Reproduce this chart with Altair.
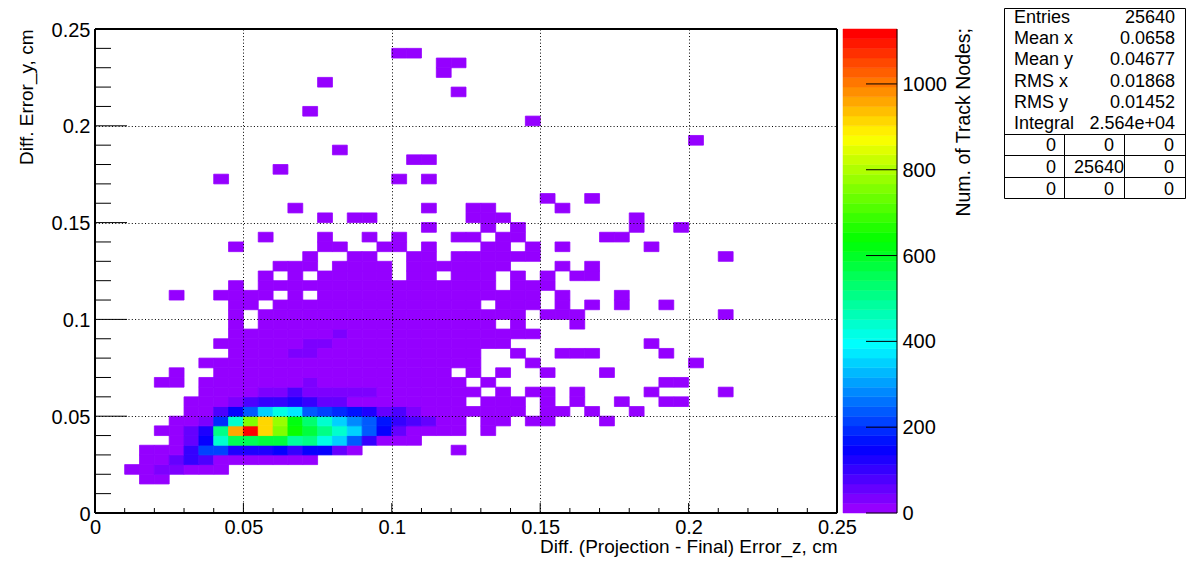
import colorsys
import altair as alt
import pandas as pd

FONT = "Liberation Sans"
BIN = 0.005
ZMAX = 1128.0
LEVELS = 50

# Dense part of the histogram: (row bin, first column bin, counts)
core_03 = (3, 3, [3, 3])
core_04 = (4, 2, [4, 4, 35, 28, 8, 8, 8])
core_05 = (5, 3, [8, 8, 48, 110, 78, 18, 18, 18, 10, 10, 10, 10])
core_06 = (6, 3, [6, 6, 10, 110, 220, 205, 125, 125, 130, 144, 110, 146, 146, 62, 8])
core_07 = (7, 5, [8, 62, 155, 440, 560, 545, 580, 575, 480, 500, 410, 340, 242, 94, 20, 8, 8])
core_08 = (8, 4, [10, 15, 50, 130, 504, 968, 1120, 918, 750, 640, 570, 504, 440, 340, 226, 144, 62, 15, 12, 10, 8])
core_09 = (9, 5, [10, 15, 30, 190, 440, 750, 918, 785, 615, 520, 440, 340, 290, 242, 176, 94, 78, 50, 15, 15])
core_10 = (10, 6, [8, 12, 90, 144, 242, 360, 425, 370, 242, 205, 190, 160, 130, 50, 90, 35, 8, 8, 8, 8, 8, 8, 8])
core_11 = (11, 6, [8, 8, 12, 30, 75, 95, 95, 125, 95, 50, 60, 20, 20, 20, 20, 6, 6, 6, 6])
core_12 = (12, 7, [8, 8, 8, 8, 45, 45, 80, 30, 25, 25, 25, 25, 10, 6, 6, 6, 6, 6, 6])
core_13 = (13, 14, [25])
core_16 = (16, 13, [24, 24])
core_17 = (17, 14, [24, 24])
core_18 = (18, 16, [24])
core_rows = [core_03, core_04, core_05, core_06, core_07, core_08, core_09, core_10,
             core_11, core_12, core_13, core_16, core_17, core_18]

# Sparse part: runs of first/last column bin with a few entries, per row bin
sparse_06 = [(24, 24)]
sparse_08 = [(26, 26)]
sparse_09 = [(26, 27), (29, 30), (34, 34)]
sparse_10 = [(30, 31), (33, 33), (36, 36)]
sparse_11 = [(26, 28), (30, 30), (32, 32), (35, 35), (38, 39)]
sparse_12 = [(27, 27), (29, 30), (32, 32), (37, 37), (42, 42)]
sparse_13 = [(4, 5), (7, 13), (15, 24), (26, 26), (38, 39)]
sparse_14 = [(5, 5), (8, 23), (25, 25), (27, 27), (30, 30), (34, 34)]
sparse_15 = [(7, 25), (29, 29), (40, 40)]
sparse_16 = [(9, 12), (15, 25), (28, 28), (31, 33), (38, 38)]
sparse_17 = [(8, 13), (16, 27), (37, 37)]
sparse_18 = [(9, 15), (17, 29)]
sparse_19 = [(9, 9), (11, 26), (28, 28), (32, 32)]
sparse_20 = [(9, 9), (11, 28), (30, 32), (42, 42)]
sparse_21 = [(9, 10), (12, 25), (27, 29), (31, 31), (33, 33), (35, 35), (38, 38)]
sparse_22 = [(5, 5), (8, 11), (13, 13), (15, 29), (31, 31), (35, 35)]
sparse_23 = [(9, 9), (11, 26), (28, 30)]
sparse_24 = [(11, 11), (13, 13), (15, 19), (21, 22), (24, 26), (28, 28), (30, 30), (32, 33)]
sparse_25 = [(12, 14), (16, 19), (21, 27), (31, 31), (33, 33)]
sparse_26 = [(14, 14), (17, 18), (21, 22), (24, 29), (42, 42)]
sparse_27 = [(9, 9), (15, 16), (19, 20), (22, 22), (26, 27), (29, 29), (31, 31), (37, 37)]
sparse_28 = [(11, 11), (15, 15), (18, 18), (20, 20), (24, 25), (27, 28), (34, 35)]
sparse_29 = [(22, 22), (26, 26), (28, 28), (36, 36), (39, 39)]
sparse_30 = [(15, 15), (17, 18), (25, 27), (36, 36)]
sparse_31 = [(13, 13), (22, 22), (25, 26), (31, 31)]
sparse_32 = [(30, 30), (33, 33)]
sparse_34 = [(8, 8), (20, 20), (22, 22)]
sparse_35 = [(12, 12)]
sparse_36 = [(21, 22)]
sparse_37 = [(16, 16)]
sparse_38 = [(40, 40)]
sparse_40 = [(29, 29)]
sparse_41 = [(14, 14)]
sparse_43 = [(24, 24)]
sparse_44 = [(15, 15)]
sparse_45 = [(23, 23)]
sparse_46 = [(23, 24)]
sparse_47 = [(20, 21)]
sparse_rows = {6: sparse_06, 8: sparse_08, 9: sparse_09, 10: sparse_10, 11: sparse_11, 12: sparse_12,
               13: sparse_13, 14: sparse_14, 15: sparse_15, 16: sparse_16, 17: sparse_17, 18: sparse_18,
               19: sparse_19, 20: sparse_20, 21: sparse_21, 22: sparse_22, 23: sparse_23, 24: sparse_24,
               25: sparse_25, 26: sparse_26, 27: sparse_27, 28: sparse_28, 29: sparse_29, 30: sparse_30,
               31: sparse_31, 32: sparse_32, 34: sparse_34, 35: sparse_35, 36: sparse_36, 37: sparse_37,
               38: sparse_38, 40: sparse_40, 41: sparse_41, 43: sparse_43, 44: sparse_44, 45: sparse_45,
               46: sparse_46, 47: sparse_47}
SPARSE_COUNT = 3

stat_names = ["Entries", "Mean x", "Mean y", "RMS x", "RMS y", "Integral"]
stat_values = ["25640", "0.0658", "0.04677", "0.01868", "0.01452", "2.564e+04"]
overflow_grid = [["0", "0", "0"], ["0", "25640", "0"], ["0", "0", "0"]]
x_major = [0, 0.05, 0.1, 0.15, 0.2, 0.25]
y_major = [0, 0.05, 0.1, 0.15, 0.2, 0.25]
minor_ticks = [0.01, 0.02, 0.03, 0.04, 0.06, 0.07, 0.08, 0.09, 0.11, 0.12, 0.13, 0.14,
               0.16, 0.17, 0.18, 0.19, 0.21, 0.22, 0.23, 0.24]
z_ticks = [0, 200, 400, 600, 800, 1000]

cells = []
for row, first, counts in core_rows:
    for k, c in enumerate(counts):
        cells.append((first + k, row, c))
for row, runs in sparse_rows.items():
    for a, b in runs:
        for col in range(a, b + 1):
            cells.append((col, row, SPARSE_COUNT))
hist = pd.DataFrame(cells, columns=["col", "row", "count"])
hist["x0"] = hist["col"] * BIN
hist["x1"] = (hist["col"] + 1) * BIN
hist["y0"] = hist["row"] * BIN
hist["y1"] = (hist["row"] + 1) * BIN


def level_color(k):
    r, g, b = colorsys.hsv_to_rgb(275 / 360 * (1 - k / (LEVELS - 1)), 1, 1)
    return "#%02x%02x%02x" % (round(r * 255), round(g * 255), round(b * 255))


step = ZMAX / LEVELS
palette = [level_color(k) for k in range(LEVELS)]
thresholds = [step * k for k in range(1, LEVELS)]
color_scale = alt.Scale(type="threshold", domain=thresholds, range=palette)

W, H = 742, 484
xs = alt.Scale(domain=[0, 0.25], range=[0, W], nice=False, zero=False)
ys = alt.Scale(domain=[0, 0.25], range=[H, 0], nice=False, zero=False)
zs = alt.Scale(domain=[0, ZMAX], range=[H, 0], nice=False, zero=False)
label_font = dict(labelFont=FONT, labelFontSize=20, labelColor="black", titleFont=FONT,
                  titleFontSize=19, titleFontWeight="normal", titleColor="black")

heat = alt.Chart(hist).mark_rect(strokeWidth=0.8).encode(
    x=alt.X("x0:Q", scale=xs, axis=alt.Axis(
        values=x_major, format="~g", grid=True, gridColor="black", gridDash=[1, 2.3], gridOpacity=1,
        gridWidth=1, tickSize=0, domain=False, labelPadding=4, labelFlush=False, labelOverlap=False,
        title="Diff. (Projection - Final) Error_z, cm", titleAnchor="end", titlePadding=0, zindex=1,
        **label_font)),
    x2="x1:Q",
    y=alt.Y("y0:Q", scale=ys, axis=alt.Axis(
        values=y_major, format="~g", grid=True, gridColor="black", gridDash=[1, 2.3], gridOpacity=1,
        gridWidth=1, tickSize=0, domain=False, labelPadding=5, labelOffset=1, labelFlush=False,
        labelOverlap=False, title="Diff. Error_y, cm", titleAnchor="end", titlePadding=15, zindex=1,
        **label_font)),
    y2="y1:Q",
    color=alt.Color("count:Q", scale=color_scale, legend=None),
    stroke=alt.Stroke("count:Q", scale=color_scale, legend=None),
)


def x_ticks(values, length):
    return alt.Chart(pd.DataFrame({"v": values})).mark_rule(color="black", strokeWidth=1).encode(
        x=alt.X("v:Q", scale=xs, axis=None), y=alt.value(H), y2=alt.value(H - length))


def y_ticks(values, length):
    return alt.Chart(pd.DataFrame({"v": values})).mark_rule(color="black", strokeWidth=1).encode(
        y=alt.Y("v:Q", scale=ys, axis=None), x=alt.value(0), x2=alt.value(length))


bar = pd.DataFrame({"lo": [step * k for k in range(LEVELS)], "hi": [step * (k + 1) for k in range(LEVELS)]})
bar["mid"] = (bar["lo"] + bar["hi"]) / 2
BAR_L, BAR_R = 843 - 95, 897 - 95
colorbar = alt.Chart(bar).mark_rect(strokeWidth=0.5).encode(
    x=alt.value(BAR_L), x2=alt.value(BAR_R),
    y=alt.Y("lo:Q", scale=zs, axis=alt.Axis(
        orient="right", offset=BAR_R - W, values=z_ticks, format="d", tickSize=0, domain=False, grid=False,
        labelPadding=5, labelOffset=0.5, labelFlush=False, labelOverlap=False, title=None, **label_font)),
    y2="hi:Q",
    color=alt.Color("mid:Q", scale=color_scale, legend=None),
    stroke=alt.Stroke("mid:Q", scale=color_scale, legend=None),
)
bar_line = alt.Chart(pd.DataFrame({"a": [0], "b": [ZMAX]})).mark_rule(color="black", strokeWidth=1).encode(
    y=alt.Y("a:Q", scale=zs, axis=None), y2="b:Q", x=alt.value(BAR_R))
bar_ticks = alt.Chart(pd.DataFrame({"v": z_ticks})).mark_rule(color="black", strokeWidth=1).encode(
    y=alt.Y("v:Q", scale=zs, axis=None), x=alt.value(BAR_R - 31), x2=alt.value(BAR_R))

PX, PY = 95, 29
bar_title = alt.Chart(pd.DataFrame({"t": ["Num. of Track Nodes;"]})).mark_text(
    font=FONT, fontSize=19.5, angle=270, align="right", baseline="middle", color="black"
).encode(x=alt.value(964 - PX), y=alt.value(28 - PY), text="t:N")

# Statistics box
text_rows = []
row_centres = [17.5, 38.5, 59.5, 81.5, 102.5, 123.5]
for name, val, yc in zip(stat_names, stat_values, row_centres):
    text_rows.append(dict(px=1014 - PX, py=yc - PY, t=name, side="left"))
    text_rows.append(dict(px=1175 - PX, py=yc - PY, t=val, side="right"))
col_right = [1056, 1114, 1174]
for line, yc in zip(overflow_grid, [146, 168, 190]):
    for col, t, xr in zip(range(3), line, col_right):
        text_rows.append(dict(px=(1124 if t == "25640" else xr) - PX, py=yc - PY, t=t, side="right"))
stats_text = pd.DataFrame(text_rows)


def stat_layer(side):
    return alt.Chart(stats_text[stats_text["side"] == side]).mark_text(
        font=FONT, fontSize=18, align=side, baseline="middle", color="black"
    ).encode(x=alt.X("px:Q", scale=None, axis=None), y=alt.Y("py:Q", scale=None, axis=None), text="t:N")


BOX_L, BOX_R, BOX_T, BOX_B = 1004.5, 1185.5, 8.5, 198.5
segments = [(BOX_L, BOX_R, BOX_T, BOX_T), (BOX_L, BOX_R, BOX_B, BOX_B), (BOX_L, BOX_L, BOX_T, BOX_B),
            (BOX_R, BOX_R, BOX_T, BOX_B), (BOX_L, BOX_R, 134.5, 134.5), (BOX_L, BOX_R, 155.5, 155.5),
            (BOX_L, BOX_R, 177.5, 177.5), (1064.5, 1064.5, 134.5, BOX_B), (1124.5, 1124.5, 134.5, BOX_B)]
seg = pd.DataFrame(segments, columns=["x0", "x1", "y0", "y1"])
seg[["x0", "x1"]] -= PX
seg[["y0", "y1"]] -= PY
stats_lines = alt.Chart(seg).mark_rule(color="black", strokeWidth=1).encode(
    x=alt.X("x0:Q", scale=None, axis=None), x2="x1:Q",
    y=alt.Y("y0:Q", scale=None, axis=None), y2="y1:Q")

frame_segments = pd.DataFrame(
    [(0, W, 0, 0), (0, W, H, H), (0, 0, 0, H), (W, W, 0, H)], columns=["x0", "x1", "y0", "y1"])
frame = alt.Chart(frame_segments).mark_rule(color="black", strokeWidth=2).encode(
    x=alt.X("x0:Q", scale=None, axis=None), x2="x1:Q",
    y=alt.Y("y0:Q", scale=None, axis=None), y2="y1:Q")

chart = alt.layer(
    heat,
    x_ticks([v for v in x_major], 10), x_ticks(minor_ticks, 5),
    y_ticks([v for v in y_major], 32), y_ticks(minor_ticks, 16),
    colorbar, bar_line, bar_ticks, bar_title,
    stats_lines, stat_layer("left"), stat_layer("right"), frame,
).resolve_scale(x="independent", y="independent", color="shared", stroke="shared").properties(
    width=W, height=H,
    autosize=alt.AutoSizeParams(type="none"),
    padding={"left": 87, "top": 21, "right": 351, "bottom": 51},
).configure_view(stroke=None).configure(background="white")

chart.save("out.html", embed_options={"renderer": "svg", "actions": False})
